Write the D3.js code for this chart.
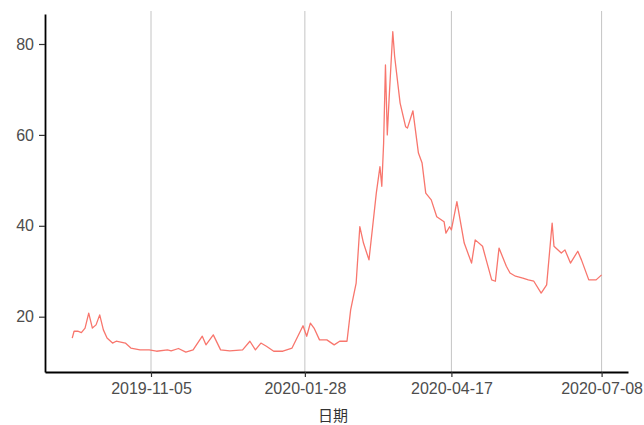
<html lang="zh">
  <head>
    <meta charset="UTF-8" />
    <title>日期 line</title>
    <script src="https://d3js.org/d3.v7.min.js"></script>
  </head>
  <style>
    body {
      margin: 0;
      background: #fff;
    }
    svg {
      display: block;
    }
    .tick text {
      font-family: "Liberation Sans", Arial, sans-serif;
      font-size: 16px;
      fill: #4d4d4d;
    }
  </style>
  <body>
    <div id="viz"><svg width="644" height="425"></svg></div>
    <script>
      // values
      var dates = [
        "2019-09-23", "2019-09-24", "2019-09-26", "2019-09-28", "2019-09-30",
        "2019-10-02", "2019-10-04", "2019-10-06", "2019-10-08", "2019-10-10",
        "2019-10-12", "2019-10-15", "2019-10-17", "2019-10-22", "2019-10-25",
        "2019-10-30", "2019-11-04", "2019-11-08", "2019-11-14", "2019-11-16",
        "2019-11-20", "2019-11-24", "2019-11-28", "2019-12-03", "2019-12-05",
        "2019-12-09", "2019-12-13", "2019-12-18", "2019-12-25", "2019-12-29",
        "2020-01-01", "2020-01-04", "2020-01-07", "2020-01-11", "2020-01-16",
        "2020-01-21", "2020-01-27", "2020-01-29", "2020-01-31", "2020-02-02",
        "2020-02-05", "2020-02-09", "2020-02-13", "2020-02-16", "2020-02-20",
        "2020-02-22", "2020-02-25", "2020-02-27", "2020-02-29", "2020-03-03",
        "2020-03-05", "2020-03-07", "2020-03-09", "2020-03-10", "2020-03-11",
        "2020-03-12", "2020-03-13", "2020-03-14", "2020-03-16", "2020-03-17",
        "2020-03-20", "2020-03-23", "2020-03-24", "2020-03-27", "2020-03-30",
        "2020-04-01", "2020-04-03", "2020-04-06", "2020-04-09", "2020-04-13",
        "2020-04-14", "2020-04-16", "2020-04-17", "2020-04-20", "2020-04-24",
        "2020-04-28", "2020-04-30", "2020-05-04", "2020-05-06", "2020-05-09",
        "2020-05-11", "2020-05-13", "2020-05-17", "2020-05-19", "2020-05-22",
        "2020-05-26", "2020-05-29", "2020-06-01", "2020-06-05", "2020-06-08",
        "2020-06-11", "2020-06-12", "2020-06-16", "2020-06-18", "2020-06-21",
        "2020-06-25", "2020-06-27", "2020-07-01", "2020-07-05", "2020-07-08"
      ];
      var values = [
        15.3, 16.8, 16.8, 16.5, 17.5,
        20.8, 17.5, 18.2, 20.4, 17.1,
        15.3, 14.2, 14.6, 14.2, 13.1,
        12.7, 12.7, 12.4, 12.7, 12.5,
        13.0, 12.2, 12.7, 15.7, 13.8,
        16.0, 12.7, 12.5, 12.7, 14.6,
        12.7, 14.2, 13.5, 12.4, 12.4,
        13.1, 18.0, 15.7, 18.6, 17.5,
        14.9, 14.9, 13.8, 14.6, 14.6,
        21.5, 27.4, 39.8, 36.2, 32.5,
        39.8, 47.2, 53.0, 48.7, 58.2,
        75.4, 60.0, 68.0, 82.7, 77.3,
        67.0, 61.8, 61.5, 65.3, 56.0,
        53.8, 47.2, 45.7, 42.0, 40.9,
        38.4, 39.8, 39.1, 45.3, 36.2,
        31.8, 36.9, 35.5, 32.5, 28.1,
        27.8, 35.1, 31.1, 29.6, 28.9,
        28.5, 28.1, 27.8, 25.2, 27.0,
        40.6, 35.5, 34.0, 34.7, 31.8,
        34.4, 32.5, 28.1, 28.1, 29.2
      ];
      var xTicks = ["2019-11-05", "2020-01-28", "2020-04-17", "2020-07-08"];
      var yTicks = [20, 40, 60, 80];

      drawChart();

      function drawChart() {
        var parse = d3.timeParse("%Y-%m-%d");
        var fmt = d3.timeFormat("%Y-%m-%d");

        var data = dates.map(function (d, i) {
          return { date: parse(d), value: values[i] };
        });

        var panelLeft = 45,
          panelRight = 628,
          panelTop = 14,
          panelBottom = 372;

        // anchor on the first and last tick, then widen to the panel edges
        var x = d3
          .scaleTime()
          .domain([parse(xTicks[0]), parse(xTicks[3])])
          .range([151, 601.6]);
        x.domain([x.invert(panelLeft), x.invert(panelRight)]).range([
          panelLeft,
          panelRight,
        ]);

        var y = d3
          .scaleLinear()
          .domain([7.83, 86.6])
          .range([panelBottom, panelTop]);

        var svg = d3.select("svg");

        // vertical grid lines
        svg
          .append("g")
          .selectAll("line")
          .data(xTicks)
          .enter()
          .append("line")
          .attr("x1", function (d) {
            return x(parse(d));
          })
          .attr("x2", function (d) {
            return x(parse(d));
          })
          .attr("y1", panelTop - 3)
          .attr("y2", panelBottom)
          .style("stroke", "#c4c4c4")
          .style("stroke-width", 1);

        var line = d3
          .line()
          .x(function (d) {
            return x(d.date);
          })
          .y(function (d) {
            return y(d.value);
          });

        svg
          .append("path")
          .datum(data)
          .attr("d", line)
          .style("fill", "none")
          .style("stroke", "#F8766D")
          .style("stroke-width", 1.3)
          .style("stroke-linejoin", "round");

        svg
          .append("g")
          .attr("transform", "translate(0," + panelBottom + ")")
          .call(
            d3
              .axisBottom(x)
              .tickValues(xTicks.map(parse))
              .tickFormat(fmt)
              .tickSizeInner(5)
              .tickSizeOuter(0)
              .tickPadding(6)
          );

        svg
          .append("g")
          .attr("transform", "translate(" + panelLeft + ",0)")
          .call(
            d3
              .axisLeft(y)
              .tickValues(yTicks)
              .tickSizeInner(6)
              .tickSizeOuter(0)
              .tickPadding(5)
          );

        svg
          .selectAll(".domain")
          .style("stroke", "#000")
          .style("stroke-width", 1.8);
        svg
          .selectAll(".tick line")
          .style("stroke", "#333")
          .style("stroke-width", 1.2);

        svg
          .append("text")
          .attr("x", 333)
          .attr("y", 421)
          .attr("text-anchor", "middle")
          .style("font-family", "'Noto Sans CJK SC', sans-serif")
          .style("font-size", "15px")
          .style("fill", "#333")
          .text("日期");
      }
    </script>
  </body>
</html>
